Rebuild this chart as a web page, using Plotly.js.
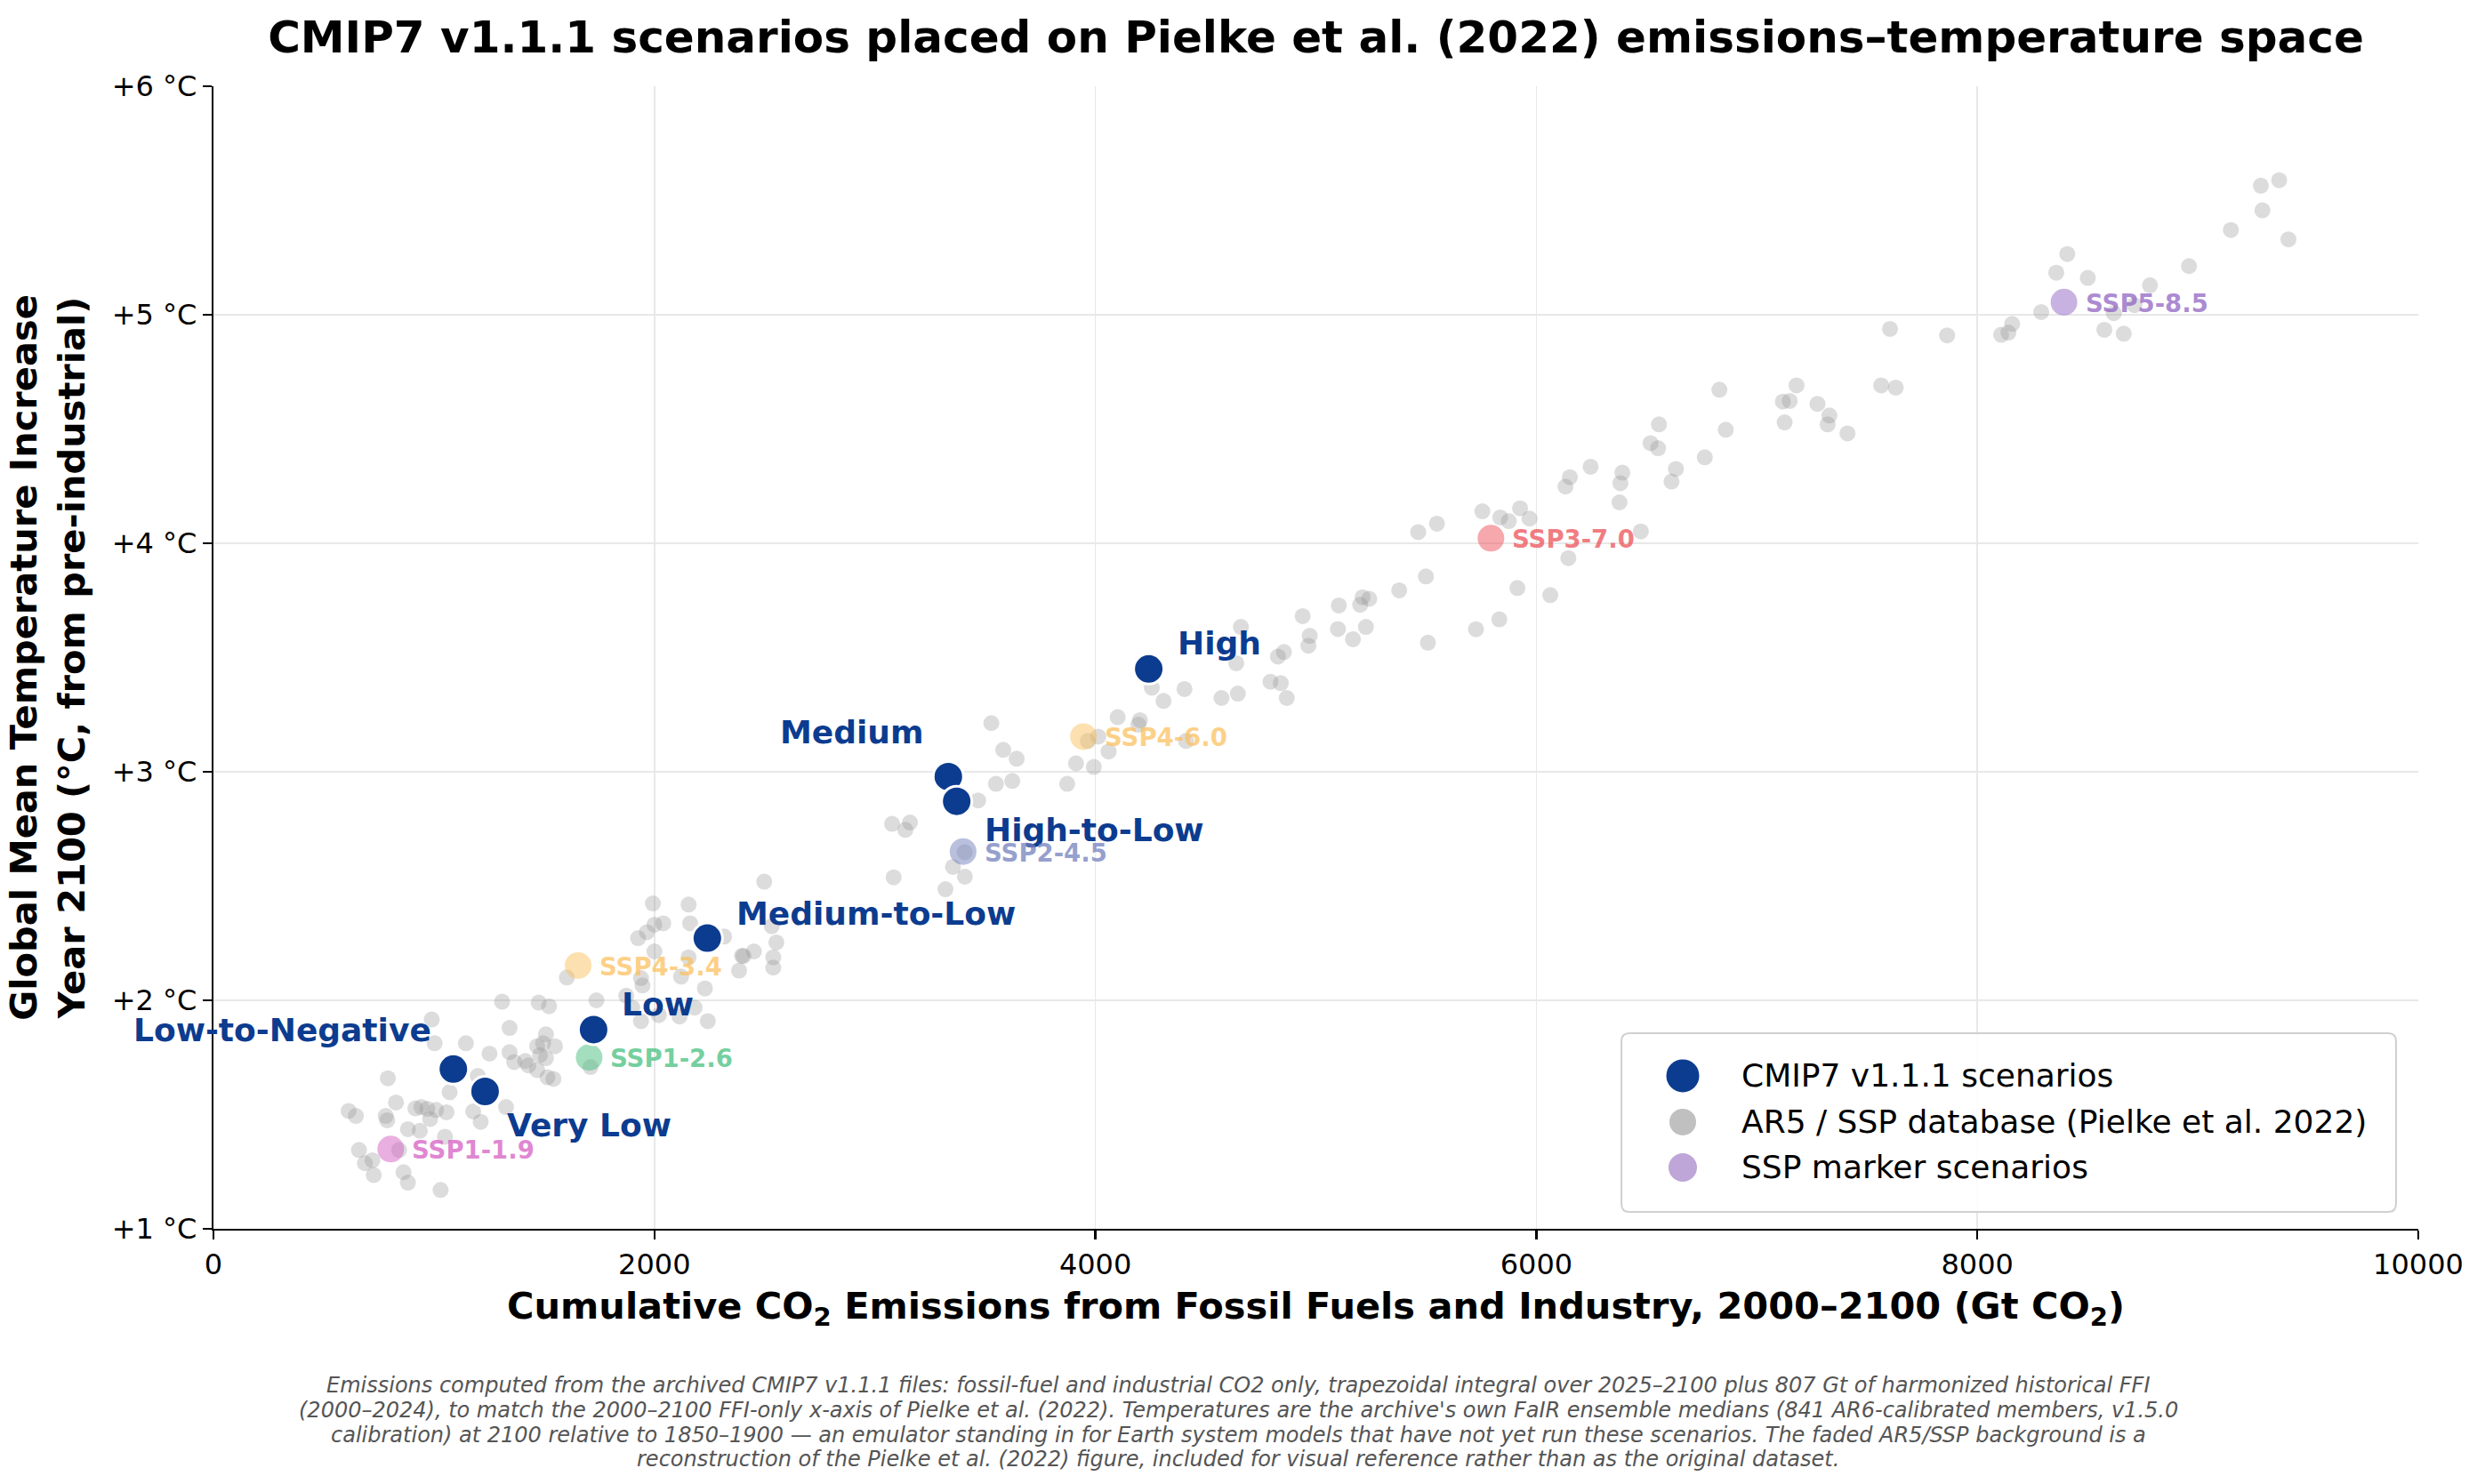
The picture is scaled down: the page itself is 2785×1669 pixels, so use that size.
<!DOCTYPE html>
<html>
<head>
<meta charset="utf-8">
<script src="https://cdn.plot.ly/plotly-3.0.1.min.js"></script>
<style>
html,body{margin:0;padding:0;background:#ffffff;}
#chart{width:2785px;height:1669px;}
</style>
</head>
<body>
<div id="chart"></div>
<script>
// ---------------- DATA ----------------
// Faded AR5 / SSP database background (reconstruction of Pielke et al. 2022)
const bgX = [
  1993,2155,1926,1966,2000,2040,2316,2162,2397,2451,2384,2498,2000,1939,1946,1603,2121,2155,2229,1737,
  1899,2020,2182,2242,2114,1872,1939,1309,1475,1522,1343,990,1003,1145,1252,1343,1364,1414,1428,1468,
  1508,1495,1549,1481,1508,1468,1515,1542,1710,1199,1071,1178,1212,1327,791,828,916,943,970,1010,
  1057,983,882,936,781,788,613,646,1050,660,687,721,727,842,862,882,1030,
  2532,2553,2404,2539,2539,3078,3159,3138,3085,3320,3354,3408,3468,3407,
  3528,3582,3643,3549,3623,3872,3912,3993,3966,4013,4101,4202,4195,4060,4411,4256,4309,4404,4572,4646,
  4639,4660,4828,4855,4794,4841,4868,4940,
  4972,4966,5104,5100,5168,5212,5242,5201,5227,5378,5499,5508,5464,5549,5726,5832,5914,6063,6145,5755,
  5836,5875,5926,5969,6474,6132,6152,6246,6377,6381,6390,6613,6633,
  6556,6518,6552,6764,6830,6859,7118,7149,7180,7126,7275,7321,7329,7411,7564,7630,7604,7863,8108,8141,
  8158,8290,8358,8501,8576,
  8408,8783,8713,8619,8664,8960,9150,9286,9369,9293,9411
];
const bgY = [
  2.424,2.419,2.272,2.298,2.331,2.337,2.279,2.337,2.195,2.214,2.130,2.519,2.214,2.097,2.065,2.100,2.104,2.188,2.052,2.000,
  1.968,1.935,1.968,1.909,1.929,2.020,1.909,1.994,1.990,1.974,1.879,1.916,1.812,1.812,1.767,1.773,1.730,1.734,1.715,1.799,
  1.851,1.812,1.799,1.760,1.747,1.695,1.663,1.656,1.708,1.669,1.598,1.514,1.468,1.533,1.659,1.553,1.527,1.533,1.525,1.520,
  1.510,1.481,1.436,1.429,1.494,1.475,1.516,1.494,1.403,1.345,1.287,1.300,1.235,1.345,1.248,1.202,1.170,
  2.324,2.253,2.194,2.188,2.143,2.772,2.778,2.746,2.538,2.486,2.584,2.541,2.875,2.648,
  3.213,3.096,3.057,2.947,2.960,2.947,3.037,3.021,3.135,3.154,3.239,3.226,3.206,3.089,3.135,3.368,3.310,3.362,3.323,3.342,
  3.475,3.634,3.504,3.524,3.394,3.388,3.323,3.681,
  3.595,3.552,3.728,3.625,3.580,3.764,3.757,3.731,3.634,3.794,3.855,3.565,4.049,4.086,3.624,3.667,3.804,3.773,3.935,4.140,
  4.113,4.097,4.153,4.108,4.052,4.248,4.289,4.335,4.179,4.263,4.309,4.270,4.325,
  4.520,4.438,4.416,4.376,4.672,4.497,4.620,4.623,4.691,4.529,4.610,4.520,4.559,4.481,4.691,4.681,4.938,4.910,4.912,4.922,
  4.960,5.012,5.184,5.161,4.934,
  5.266,5.129,5.042,5.007,4.917,5.213,5.371,5.565,5.589,5.457,5.330
];

// CMIP7 v1.1.1 scenarios
const cmip7Names = ['High','Medium','High-to-Low','Medium-to-Low','Low','Low-to-Negative','Very Low'];
const cmip7X = [4242, 3333, 3371, 2240, 1724, 1088, 1232];
const cmip7Y = [3.450, 2.979, 2.871, 2.272, 1.872, 1.699, 1.601];

// SSP marker scenarios
const sspNames = ['SSP1-1.9','SSP1-2.6','SSP4-3.4','SSP2-4.5','SSP4-6.0','SSP3-7.0','SSP5-8.5'];
const sspX = [804, 1704, 1654, 3400, 3946, 5794, 8393];
const sspY = [1.349, 1.750, 2.152, 2.651, 3.154, 4.022, 5.055];

// Axis ticks
const xTickVals = [0, 2000, 4000, 6000, 8000, 10000];
const xTickText = ['0', '2000', '4000', '6000', '8000', '10000'];
const yTickVals = [1, 2, 3, 4, 5, 6];
const yTickText = ['+1 °C', '+2 °C', '+3 °C', '+4 °C', '+5 °C', '+6 °C'];

const legendLabels = ['CMIP7 v1.1.1 scenarios', 'AR5 / SSP database (Pielke et al. 2022)', 'SSP marker scenarios'];

const titleText = 'CMIP7 v1.1.1 scenarios placed on Pielke et al. (2022) emissions–temperature space';
const xTitleText = 'Cumulative CO<sub>2</sub> Emissions from Fossil Fuels and Industry, 2000–2100 (Gt CO<sub>2</sub>)';
const yTitleLines = ['Global Mean Temperature Increase', 'Year 2100 (°C, from pre-industrial)'];
const footLines = [
  'Emissions computed from the archived CMIP7 v1.1.1 files: fossil-fuel and industrial CO2 only, trapezoidal integral over 2025–2100 plus 807 Gt of harmonized historical FFI',
  '(2000–2024), to match the 2000–2100 FFI-only x-axis of Pielke et al. (2022). Temperatures are the archive\'s own FaIR ensemble medians (841 AR6-calibrated members, v1.5.0',
  'calibration) at 2100 relative to 1850–1900 — an emulator standing in for Earth system models that have not yet run these scenarios. The faded AR5/SSP background is a',
  'reconstruction of the Pielke et al. (2022) figure, included for visual reference rather than as the original dataset.'
];

// ---------------- STYLES ----------------
const FONT = 'DejaVu Sans, Verdana, sans-serif';
const BLUE = '#0c3c8f';
const sspBase = {
  'SSP1-1.9': [214, 96, 196],
  'SSP1-2.6': [72, 192, 128],
  'SSP4-3.4': [251, 193, 95],
  'SSP2-4.5': [115, 129, 189],
  'SSP4-6.0': [251, 193, 95],
  'SSP3-7.0': [237, 81, 89],
  'SSP5-8.5': [145, 101, 195]
};
function rgba(c, a) { return 'rgba(' + c[0] + ',' + c[1] + ',' + c[2] + ',' + a + ')'; }

// label offsets (px) for CMIP7 labels
const cmipLabelStyle = {
  'High':            {anchor: 'left',  dx: 30,  dy: 29},
  'Medium':          {anchor: 'right', dx: -25, dy: 50},
  'High-to-Low':     {anchor: 'left',  dx: 29,  dy: -32},
  'Medium-to-Low':   {anchor: 'left',  dx: 31,  dy: 28},
  'Low':             {anchor: 'left',  dx: 30,  dy: 28},
  'Low-to-Negative': {anchor: 'right', dx: -23, dy: 44},
  'Very Low':        {anchor: 'left',  dx: 23,  dy: -38}
};

// ---------------- TRACES ----------------
const traces = [
  {
    type: 'scatter', mode: 'markers', name: legendLabels[1],
    x: bgX, y: bgY,
    marker: {size: 18, color: 'rgba(150,150,150,0.33)', line: {width: 0}},
    hoverinfo: 'x+y', showlegend: false
  },
  {
    type: 'scatter', mode: 'markers', name: legendLabels[2],
    x: sspX, y: sspY, text: sspNames,
    marker: {size: 30, color: sspNames.map(n => rgba(sspBase[n], 0.5)), line: {width: 0}},
    hoverinfo: 'text+x+y', showlegend: false
  },
  {
    type: 'scatter', mode: 'markers', name: legendLabels[0],
    x: cmip7X, y: cmip7Y, text: cmip7Names,
    marker: {size: 34, color: BLUE, line: {width: 3, color: '#ffffff'}},
    hoverinfo: 'text+x+y', showlegend: false
  }
];

// ---------------- ANNOTATIONS ----------------
const annotations = [];
cmip7Names.forEach((n, i) => {
  const s = cmipLabelStyle[n];
  annotations.push({
    x: cmip7X[i], y: cmip7Y[i], xref: 'x', yref: 'y', showarrow: false,
    text: '<b>' + n + '</b>', xanchor: s.anchor, yanchor: 'middle',
    xshift: s.dx, yshift: s.dy,
    font: {family: FONT, size: 36, color: BLUE}
  });
});
sspNames.forEach((n, i) => {
  annotations.push({
    x: sspX[i], y: sspY[i], xref: 'x', yref: 'y', showarrow: false,
    text: '<b>' + n + '</b>', xanchor: 'left', yanchor: 'middle',
    xshift: 22, yshift: -1,
    font: {family: FONT, size: 27.5, color: rgba(sspBase[n], 0.75)}
  });
});
// footnote, one annotation per line (pixel rows of the reference)
const footRowsPx = [1558, 1586, 1614, 1641];
footLines.forEach((l, i) => {
  annotations.push({
    xref: 'paper', yref: 'paper', x: (1392 - 240) / 2479, y: (1382 - footRowsPx[i]) / 1285,
    xanchor: 'center', yanchor: 'middle', showarrow: false, align: 'center',
    text: '<i>' + l + '</i>',
    font: {family: FONT, size: 24, color: '#555555'}
  });
});

// manual legend (matplotlib style)
const legX0 = 0.6386, legX1 = 0.9899, legY0 = 0.0148, legY1 = 0.1712;
const rx = 9 / 2479, ry = 9 / 1285;
const legendPath =
  'M ' + (legX0 + rx) + ',' + legY0 +
  ' L ' + (legX1 - rx) + ',' + legY0 +
  ' Q ' + legX1 + ',' + legY0 + ' ' + legX1 + ',' + (legY0 + ry) +
  ' L ' + legX1 + ',' + (legY1 - ry) +
  ' Q ' + legX1 + ',' + legY1 + ' ' + (legX1 - rx) + ',' + legY1 +
  ' L ' + (legX0 + rx) + ',' + legY1 +
  ' Q ' + legX0 + ',' + legY1 + ' ' + legX0 + ',' + (legY1 - ry) +
  ' L ' + legX0 + ',' + (legY0 + ry) +
  ' Q ' + legX0 + ',' + legY0 + ' ' + (legX0 + rx) + ',' + legY0 + ' Z';
const shapes = [{
  type: 'path', xref: 'paper', yref: 'paper', path: legendPath,
  fillcolor: 'rgba(255,255,255,0.85)', line: {color: '#d0d0d0', width: 2}, layer: 'above'
}];
const legRowY = [0.1339, 0.0934, 0.0537];
const legMarkX = 0.6664, legTextX = 0.6922;
const legMarkSize = [37, 30, 32];
const legMarkColor = [BLUE, '#c0c0c0', '#bea6d8'];
legendLabels.forEach((lab, i) => {
  const r = legMarkSize[i] / 2;
  shapes.push({
    type: 'circle', xref: 'paper', yref: 'paper',
    xsizemode: 'pixel', ysizemode: 'pixel',
    xanchor: legMarkX, yanchor: legRowY[i],
    x0: -r, x1: r, y0: -r, y1: r,
    fillcolor: legMarkColor[i], line: {width: 0}, layer: 'above'
  });
  annotations.push({
    xref: 'paper', yref: 'paper', x: legTextX, y: legRowY[i],
    xanchor: 'left', yanchor: 'middle', showarrow: false,
    text: lab, font: {family: FONT, size: 36, color: '#000000'}
  });
});

// ---------------- LAYOUT ----------------
const layout = {
  width: 2785, height: 1669,
  paper_bgcolor: '#ffffff', plot_bgcolor: '#ffffff',
  font: {family: FONT, color: '#000000'},
  margin: {l: 240, r: 66, t: 97, b: 287, pad: 0},
  showlegend: false,
  title: {
    text: '<b>' + titleText + '</b>',
    font: {family: FONT, size: 50, color: '#000000'},
    x: 0.5, xref: 'paper', xanchor: 'center',
    y: 1 - 41 / 1669, yref: 'container', yanchor: 'middle'
  },
  xaxis: {
    range: [0, 10000], autorange: false,
    tickvals: xTickVals, ticktext: xTickText, tickmode: 'array',
    tickfont: {family: FONT, size: 32, color: '#000000'},
    ticks: 'outside', ticklen: 10, tickwidth: 2.2, tickcolor: '#000000',
    showline: true, linecolor: '#000000', linewidth: 2.2, mirror: false,
    showgrid: true, gridcolor: '#e8e8e8', gridwidth: 1.6, zeroline: false,
    title: {text: '<b>' + xTitleText + '</b>', font: {family: FONT, size: 41.5, color: '#000000'}, standoff: 14},
    automargin: false
  },
  yaxis: {
    range: [1, 6], autorange: false,
    tickvals: yTickVals, ticktext: yTickText, tickmode: 'array',
    tickfont: {family: FONT, size: 32, color: '#000000'},
    ticks: 'outside', ticklen: 10, tickwidth: 2.2, tickcolor: '#000000',
    showline: true, linecolor: '#000000', linewidth: 2.2, mirror: false,
    showgrid: true, gridcolor: '#e8e8e8', gridwidth: 1.6, zeroline: false,
    title: {text: yTitleLines.map(l => '<b>' + l + '</b>').join('<br>'), font: {family: FONT, size: 41.5, color: '#000000'}, standoff: 17},
    automargin: false
  },
  annotations: annotations,
  shapes: shapes
};

Plotly.newPlot('chart', traces, layout, {staticPlot: true, displayModeBar: false});
</script>
</body>
</html>
